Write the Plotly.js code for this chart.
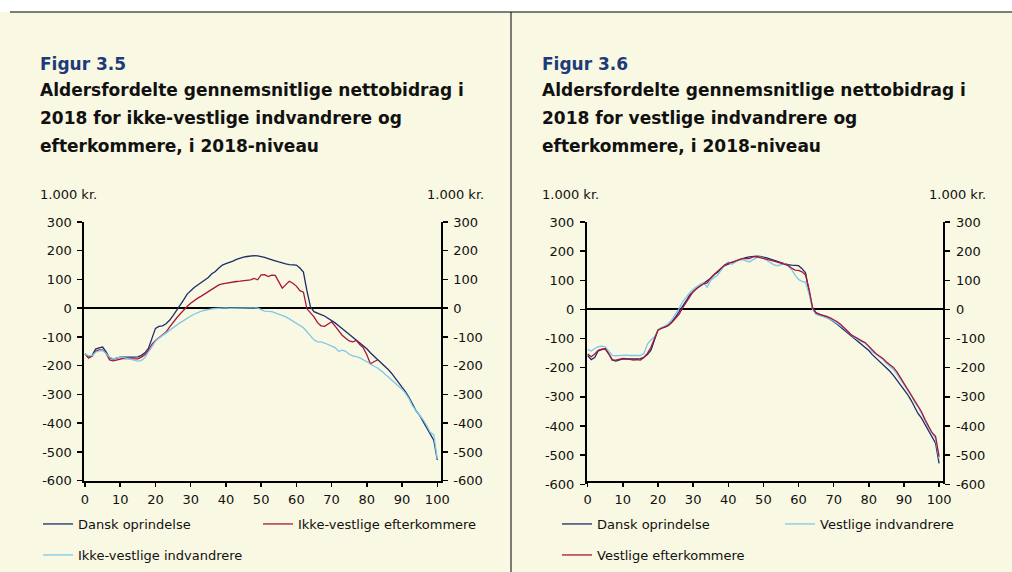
<!DOCTYPE html>
<html>
<head>
<meta charset="utf-8">
<script src="https://cdn.plot.ly/plotly-3.0.1.min.js"></script>
<style>html,body{margin:0;padding:0;background:#fff;}#chart{width:1012px;height:572px;}</style>
</head>
<body>
<div id="chart"></div>
<script>
// ---------- DATA (1.000 kr., ages 0..100) ----------
const ages = Array.from({length: 101}, (_, i) => i);

const danskOprindelse = [
 -158,-172,-165,-142,-138,-135,-152,-173,-177,-173,
 -170,-170,-169,-170,-170,-169,-164,-155,-140,-108,
 -70,-63,-61,-54,-42,-26,-9,11,29,49,
 62,72,81,90,98,107,120,128,140,150,
 155,159,164,170,175,178,180,182,183,182,
 180,177,173,170,165,161,157,154,152,152,
 150,140,126,60,5,-12,-18,-22,-27,-34,
 -42,-51,-61,-71,-82,-93,-103,-112,-122,-131,
 -141,-155,-166,-177,-189,-200,-212,-226,-242,-258,
 -274,-291,-311,-333,-357,-373,-394,-416,-437,-459,
 -528];

const ikkeVestligeEfterkommere = [
 -159,-173,-167,-150,-145,-145,-157,-180,-183,-180,
 -176,-174,-175,-175,-176,-176,-170,-162,-147,-126,
 -112,-103,-95,-83,-66,-49,-34,-20,-6,6,
 17,27,35,42,50,60,65,73,81,85,
 87,89,93,93,94,95,96,99,104,99,
 116,117,110,115,114,90,70,82,94,87,
 77,61,56,-2,-17,-30,-50,-61,-63,-55,
 -47,-62,-80,-94,-104,-114,-117,-112,-126,-138,
 -162,-193,-186,-180];

const ikkeVestligeIndvandrere = [
 -159,-165,-165,-153,-148,-147,-157,-170,-176,-172,
 -170,-172,-175,-178,-181,-184,-182,-172,-153,-133,
 -115,-104,-95,-87,-76,-66,-58,-50,-43,-34,
 -27,-21,-15,-10,-7,-4,-2,-1,0,1,
 1,0,0,1,0,0,1,2,1,1,
 -5,-10,-11,-12,-16,-20,-26,-30,-37,-45,
 -53,-58,-68,-82,-97,-110,-117,-117,-121,-127,
 -132,-137,-150,-146,-150,-160,-166,-168,-173,-179,
 -186,-194,-200,-208,-217,-228,-240,-251,-261,-270,
 -282,-296,-315,-340,-356,-370,-388,-408,-432,-440,
 -525];

const vestligeIndvandrere = [
 -137,-143,-134,-128,-126,-128,-143,-158,-159,-158,
 -157,-157,-158,-158,-158,-158,-151,-119,-105,-94,
 -71,-62,-57,-48,-34,-16,3,26,43,57,
 69,78,86,92,76,100,110,118,135,152,
 163,155,162,170,171,166,163,170,177,180,
 176,168,160,153,150,153,157,150,137,118,
 103,96,93,54,0,-17,-20,-25,-29,-34,
 -40,-48,-56,-65,-77,-88,-97,-105,-111,-117,
 -128,-145,-153,-162,-172,-185,-195,-206,-222,-240,
 -256,-275,-294,-317,-334,-357,-382,-405,-423,-443,
 -512];

const vestligeEfterkommere = [
 -153,-162,-153,-140,-136,-135,-153,-174,-174,-170,
 -168,-169,-172,-174,-172,-174,-165,-151,-130,-103,
 -71,-65,-60,-55,-44,-32,-17,5,25,45,
 61,72,80,88,91,108,120,130,142,153,
 158,162,165,171,174,174,174,180,181,178,
 175,174,171,166,162,159,155,151,142,135,
 134,129,118,70,5,-12,-17,-20,-24,-29,
 -35,-42,-52,-62,-75,-87,-95,-103,-108,-114,
 -126,-140,-151,-160,-168,-180,-188,-199,-214,-233,
 -252,-271,-291,-311,-332,-351,-378,-400,-423,-435,
 -505];

const yTickVals = [-600,-500,-400,-300,-200,-100,0,100,200,300];
const yTickLabels = ['-600','-500','-400','-300','-200','-100','0','100','200','300'];
const xTickVals = [0,10,20,30,40,50,60,70,80,90,100];
const xTickLabels = ['0','10','20','30','40','50','60','70','80','90','100'];

const unitLabel = '1.000 kr.';
const fig5Label = 'Figur 3.5';
const fig5Title = ['Aldersfordelte gennemsnitlige nettobidrag i',
                   '2018 for ikke-vestlige indvandrere og',
                   'efterkommere, i 2018-niveau'];
const fig6Label = 'Figur 3.6';
const fig6Title = ['Aldersfordelte gennemsnitlige nettobidrag i',
                   '2018 for vestlige indvandrere og',
                   'efterkommere, i 2018-niveau'];

// ---------- STYLE ----------
const W = 1012, H = 572;
const px = x => x / W;
const py = y => 1 - y / H;
const NAVY = '#1b2d6b', RED = '#a8163a', LBLUE = '#7ec8ea';
const BG = '#f9f8e2';
const FONT = 'DejaVu Sans';

function line(x, y, color, xa, ya, name, legend) {
  return {x: x, y: y, type: 'scatter', mode: 'lines', name: name,
          line: {color: color, width: 1.3}, xaxis: xa, yaxis: ya,
          legend: legend, hoverinfo: 'skip'};
}

const traces = [
  line(ages, danskOprindelse, NAVY, 'x', 'y', 'Dansk oprindelse', 'legend'),
  line(ages.slice(0, ikkeVestligeEfterkommere.length), ikkeVestligeEfterkommere, RED, 'x', 'y', 'Ikke-vestlige efterkommere', 'legend2'),
  line(ages, ikkeVestligeIndvandrere, LBLUE, 'x', 'y2', 'Ikke-vestlige indvandrere', 'legend3'),
  line(ages, danskOprindelse, NAVY, 'x2', 'y3', 'Dansk oprindelse', 'legend4'),
  line(ages, vestligeIndvandrere, LBLUE, 'x2', 'y3', 'Vestlige indvandrere', 'legend5'),
  line(ages, vestligeEfterkommere, RED, 'x2', 'y4', 'Vestlige efterkommere', 'legend6')
];

const tickFont = {family: FONT, size: 13, color: '#111'};

function xAx(domain, range) {
  return {domain: domain, range: range, fixedrange: true,
          tickvals: xTickVals, ticktext: xTickLabels, ticks: 'outside', ticklen: 4, tickwidth: 1.5,
          tickcolor: '#000', showline: true, linecolor: '#000', linewidth: 2,
          showgrid: false, zeroline: false, tickfont: tickFont, ticklabelstandoff: 2};
}
function yAx(domain, anchor, side, overlay) {
  const a = {domain: domain, range: [-600, 300], anchor: anchor, side: side, fixedrange: true,
          tickvals: yTickVals, ticktext: yTickLabels, ticks: 'outside', ticklen: 5, tickwidth: 1.5,
          tickcolor: '#000', showline: true, linecolor: '#000', linewidth: 2,
          showgrid: false, zeroline: !overlay, zerolinecolor: '#000', zerolinewidth: 2,
          tickfont: tickFont, ticklabelstandoff: 3};
  if (overlay) a.overlaying = overlay;
  return a;
}

function legendAt(x, y) {
  return {x: px(x), y: py(y), xref: 'paper', yref: 'paper', xanchor: 'left', yanchor: 'middle',
          bgcolor: 'rgba(0,0,0,0)', borderwidth: 0, font: {family: FONT, size: 13, color: '#111'},
          orientation: 'v', itemclick: false, itemdoubleclick: false};
}

const annotations = [];
function ann(text, x, y, opts) {
  annotations.push(Object.assign({text: text, x: px(x), y: py(y), xref: 'paper', yref: 'paper',
    xanchor: 'left', yanchor: 'middle', showarrow: false,
    font: {family: FONT, size: 13, color: '#111'}}, opts || {}));
}
function titleBlock(x0, label, lines) {
  ann('<b>' + label + '</b>', x0 - 2, 64, {font: {family: FONT, size: 17, color: '#1d3a7a'}});
  lines.forEach((t, i) => ann('<b>' + t + '</b>', x0 - 2, 90 + i * 28, {font: {family: FONT, size: 17, color: '#111'}}));
}
titleBlock(40, fig5Label, fig5Title);
titleBlock(542, fig6Label, fig6Title);
ann(unitLabel, 38, 195);
ann(unitLabel, 486, 195, {xanchor: 'right'});
ann(unitLabel, 540, 195);
ann(unitLabel, 988, 195, {xanchor: 'right'});

const layout = {
  width: W, height: H, margin: {l: 0, r: 0, t: 0, b: 0},
  paper_bgcolor: BG, plot_bgcolor: 'rgba(0,0,0,0)',
  font: {family: FONT, size: 13, color: '#111'},
  xaxis: xAx([px(84.3), px(440.7)], [-0.2, 100.97]),
  yaxis: yAx([py(480.7), py(222)], 'x', 'left', null),
  yaxis2: yAx([py(480.7), py(222)], 'x', 'right', 'y'),
  xaxis2: xAx([px(587), px(943.3)], [-0.2, 101.2]),
  yaxis3: yAx([py(484.3), py(222)], 'x2', 'left', null),
  yaxis4: yAx([py(484.3), py(222)], 'x2', 'right', 'y3'),
  showlegend: true,
  legend: legendAt(38, 524),
  legend2: legendAt(258, 524),
  legend3: legendAt(38, 555),
  legend4: legendAt(557, 524),
  legend5: legendAt(780, 524),
  legend6: legendAt(557, 555),
  annotations: annotations,
  shapes: [
    {type: 'rect', xref: 'paper', yref: 'paper', x0: 0, x1: 1, y0: py(12), y1: 1,
     fillcolor: '#ffffff', line: {width: 0}, layer: 'below'},
    {type: 'line', xref: 'paper', yref: 'paper', x0: px(10), x1: 1, y0: py(12), y1: py(12),
     line: {color: '#000', width: 1}},
    {type: 'line', xref: 'paper', yref: 'paper', x0: px(511), x1: px(511), y0: py(12), y1: 0,
     line: {color: '#000', width: 1}}
  ]
};

Plotly.newPlot('chart', traces, layout, {displayModeBar: false, staticPlot: true});
</script>
</body>
</html>
